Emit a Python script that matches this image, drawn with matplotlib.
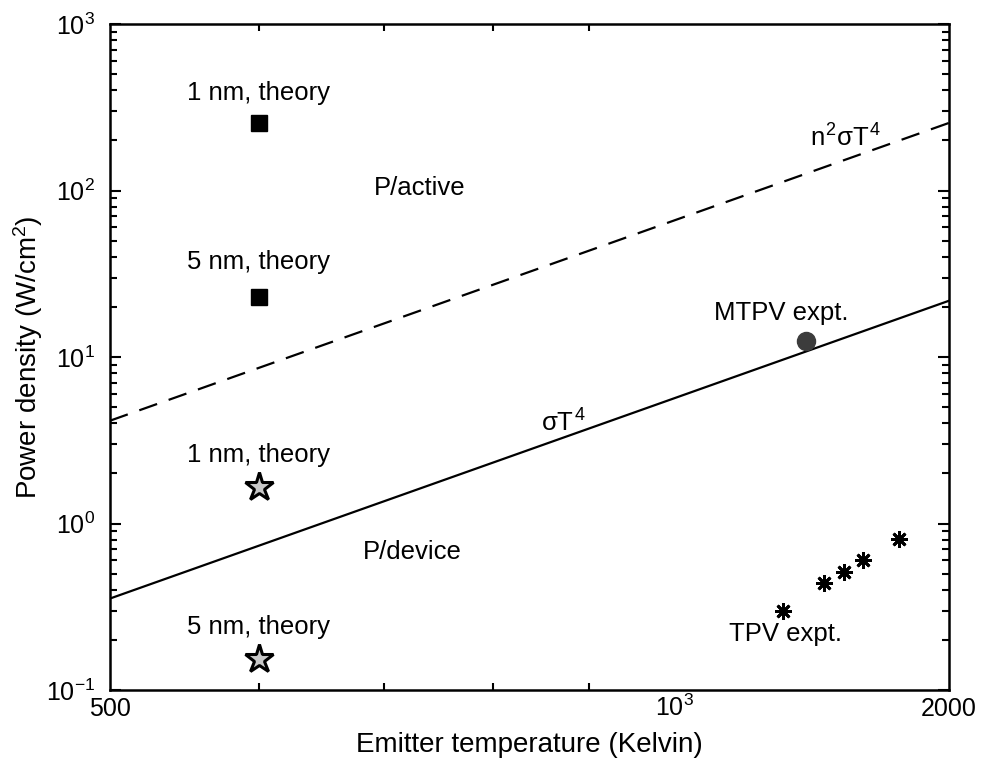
import numpy as np
import matplotlib.pyplot as plt
from matplotlib.ticker import FixedLocator, NullFormatter

plt.rcParams['font.family'] = ['Liberation Sans', 'DejaVu Sans']
plt.rcParams['mathtext.fontset'] = 'custom'
plt.rcParams['mathtext.rm'] = 'Liberation Sans'
plt.rcParams['mathtext.it'] = 'Liberation Sans'

# data
sigma = 5.67e-12      # W/cm^2/K^4
n_index = 3.42
T_line = [500, 1400]

T_theory = [600, 600]
P_active = [254, 23]      # squares: 1 nm, 5 nm
P_device = [1.66, 0.153]  # stars: 1 nm, 5 nm

T_mtpv = [1175]
P_mtpv = [12.5]

T_tpv = [1142, 1201, 1230, 1259, 1316]
P_tpv = [0.30, 0.44, 0.51, 0.60, 0.81]

fig = plt.figure(figsize=(9.81, 7.65), dpi=100)
ax = fig.add_axes([0.1121, 0.098, 0.8553, 0.8706])

T = np.array(T_line, dtype=float)
ax.plot(T, sigma * T**4, color='black', lw=1.6)
ax.plot(T, n_index**2 * sigma * T**4, color='black', lw=1.6, dashes=(8.5, 5.5))

ax.plot(T_theory, P_active, linestyle='none', marker='s', ms=11, color='black')
ax.plot(T_theory, P_device, linestyle='none', marker='*', ms=21,
        mfc='#c8c8c8', mec='black', mew=2.2)
ax.plot(T_mtpv, P_mtpv, linestyle='none', marker='o', ms=13,
        mfc='#3c3c3c', mec='#3c3c3c')
ax.plot(T_tpv, P_tpv, linestyle='none', marker=(8, 2, 0), ms=12,
        color='black', mew=2)

ax.set_xscale('log')
ax.set_yscale('log')
ax.set_xlim(500, 1400)
ax.set_ylim(0.1, 1000)

ax.xaxis.set_major_locator(FixedLocator([500, 1000, 1400]))
ax.set_xticklabels(['500', r'$10^3$', '2000'])
ax.xaxis.set_minor_locator(FixedLocator([600, 700, 800, 900]))
ax.xaxis.set_minor_formatter(NullFormatter())

ax.set_yticks([0.1, 1, 10, 100, 1000])
ax.set_yticklabels([r'$10^{-1}$', r'$10^0$', r'$10^1$', r'$10^2$', r'$10^3$'])

ax.tick_params(which='both', direction='in', top=True, right=True,
               labelsize=18, width=1.5)
ax.tick_params(which='major', length=8)
ax.tick_params(which='minor', length=5)
ax.tick_params(axis='y', pad=11)
ax.tick_params(axis='x', which='major', length=0, pad=19)
for lbl in ax.get_xticklabels():
    lbl.set_verticalalignment('baseline')
for s in ax.spines.values():
    s.set_linewidth(1.8)

ax.set_xlabel('Emitter temperature (Kelvin)', fontsize=20, va='center')
ax.xaxis.set_label_coords(0.5, -0.083)
ax.set_ylabel('Power density (W/cm$^2$)', fontsize=20, va='center')
ax.yaxis.set_label_coords(-0.097, 0.5)

fs = 18.5
ax.text(600, 385, '1 nm, theory', ha='center', va='center', fontsize=fs)
ax.text(600, 37, '5 nm, theory', ha='center', va='center', fontsize=fs)
ax.text(600, 2.58, '1 nm, theory', ha='center', va='center', fontsize=fs)
ax.text(600, 0.239, '5 nm, theory', ha='center', va='center', fontsize=fs)
ax.text(731, 103, 'P/active', ha='center', va='center', fontsize=fs)
ax.text(725, 0.675, 'P/device', ha='center', va='center', fontsize=fs)
ax.text(872, 4.0, r'$\sigma T^4$', ha='center', va='center', fontsize=fs)
ax.text(1233, 206, r'$n^2\sigma T^4$', ha='center', va='center', fontsize=fs)
ax.text(1140, 18.3, 'MTPV expt.', ha='center', va='center', fontsize=fs)
ax.text(1145, 0.217, 'TPV expt.', ha='center', va='center', fontsize=fs)

fig.savefig('out.png', dpi=100)
